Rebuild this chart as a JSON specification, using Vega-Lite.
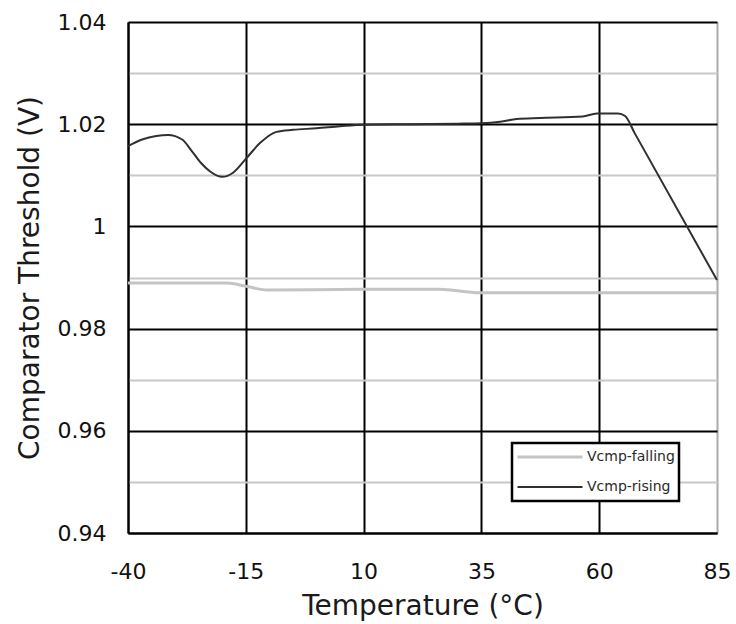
{
  "$schema": "https://vega.github.io/schema/vega-lite/v6.json",
  "autosize": {"type": "none"},
  "padding": {"left": 128, "top": 22, "right": 19, "bottom": 91},
  "width": 589,
  "height": 511,
  "background": "white",
  "config": {
    "view": {"stroke": null},
    "font": "DejaVu Sans",
    "axis": {"labelFont": "DejaVu Sans", "titleFont": "DejaVu Sans", "labelColor": "#111", "titleColor": "#1a1a1a", "titleFontWeight": "normal", "labelFlush": false},
    "legend": {"symbolStrokeWidth": 2.5}
  },
  "data": {
    "values": [
      {"T": -40, "V": 1.0157, "series": "Vcmp-rising"},
      {"T": -37, "V": 1.0170, "series": "Vcmp-rising"},
      {"T": -34, "V": 1.0177, "series": "Vcmp-rising"},
      {"T": -31.5, "V": 1.0179, "series": "Vcmp-rising"},
      {"T": -28.5, "V": 1.0170, "series": "Vcmp-rising"},
      {"T": -26.5, "V": 1.0148, "series": "Vcmp-rising"},
      {"T": -24.5, "V": 1.0124, "series": "Vcmp-rising"},
      {"T": -22.5, "V": 1.0107, "series": "Vcmp-rising"},
      {"T": -20, "V": 1.0097, "series": "Vcmp-rising"},
      {"T": -17.7, "V": 1.0105, "series": "Vcmp-rising"},
      {"T": -15, "V": 1.0132, "series": "Vcmp-rising"},
      {"T": -12, "V": 1.0163, "series": "Vcmp-rising"},
      {"T": -8.5, "V": 1.0185, "series": "Vcmp-rising"},
      {"T": -5, "V": 1.0189, "series": "Vcmp-rising"},
      {"T": 0, "V": 1.0192, "series": "Vcmp-rising"},
      {"T": 5, "V": 1.0196, "series": "Vcmp-rising"},
      {"T": 10, "V": 1.0199, "series": "Vcmp-rising"},
      {"T": 20, "V": 1.0200, "series": "Vcmp-rising"},
      {"T": 30, "V": 1.0201, "series": "Vcmp-rising"},
      {"T": 35, "V": 1.0202, "series": "Vcmp-rising"},
      {"T": 39, "V": 1.0205, "series": "Vcmp-rising"},
      {"T": 42.5, "V": 1.0210, "series": "Vcmp-rising"},
      {"T": 47.5, "V": 1.0212, "series": "Vcmp-rising"},
      {"T": 56.5, "V": 1.0215, "series": "Vcmp-rising"},
      {"T": 59.5, "V": 1.0221, "series": "Vcmp-rising"},
      {"T": 64, "V": 1.0221, "series": "Vcmp-rising"},
      {"T": 65.5, "V": 1.0216, "series": "Vcmp-rising"},
      {"T": 67.5, "V": 1.0183, "series": "Vcmp-rising"},
      {"T": 85, "V": 0.9895, "series": "Vcmp-rising"},
      {"T": -40, "V": 0.9889, "series": "Vcmp-falling"},
      {"T": -19, "V": 0.9889, "series": "Vcmp-falling"},
      {"T": -15, "V": 0.9883, "series": "Vcmp-falling"},
      {"T": -10.5, "V": 0.98755, "series": "Vcmp-falling"},
      {"T": 10, "V": 0.9877, "series": "Vcmp-falling"},
      {"T": 26, "V": 0.9877, "series": "Vcmp-falling"},
      {"T": 34.7, "V": 0.9870, "series": "Vcmp-falling"},
      {"T": 85, "V": 0.9870, "series": "Vcmp-falling"}
    ]
  },
  "mark": {"type": "line", "interpolate": "monotone"},
  "encoding": {
    "x": {
      "field": "T", "type": "quantitative",
      "scale": {"domain": [-40, 85], "nice": false},
      "axis": {
        "title": "Temperature (°C)",
        "values": [-40, -15, 10, 35, 60, 85],
        "labelExpr": "(datum.value < 0 ? '-' : '') + abs(datum.value)",
        "labelFlush": false,
        "ticks": false,
        "labelFontSize": 22,
        "labelPadding": 28,
        "titleFontSize": 28,
        "titlePadding": 10,
        "domainColor": "#000",
        "domainWidth": 2,
        "grid": true,
        "gridColor": {"condition": {"test": "datum.value == 85", "value": "#aaaaaa"}, "value": "#000000"},
        "gridWidth": 2,
        "gridOpacity": 1
      }
    },
    "y": {
      "field": "V", "type": "quantitative",
      "scale": {"domain": [0.94, 1.04], "nice": false, "zero": false},
      "axis": {
        "title": "Comparator Threshold (V)",
        "values": [0.94, 0.95, 0.96, 0.97, 0.98, 0.99, 1.0, 1.01, 1.02, 1.03, 1.04],
        "format": "~g",
        "labelExpr": "round(datum.value*100) % 2 == 0 ? datum.label : ''",
        "labelFlush": false,
        "ticks": false,
        "labelFontSize": 22,
        "labelPadding": 22,
        "titleFontSize": 28,
        "titlePadding": 13,
        "domainColor": "#000",
        "domainWidth": 2,
        "grid": true,
        "gridColor": {"condition": {"test": "round(datum.value*100) % 2 == 0", "value": "#000000"}, "value": "#c8c8c8"},
        "gridWidth": 2,
        "gridOpacity": 1
      }
    },
    "color": {
      "field": "series", "type": "nominal",
      "scale": {"domain": ["Vcmp-falling", "Vcmp-rising"], "range": ["#c4c4c4", "#303030"]},
      "legend": {
        "title": null,
        "orient": "none",
        "legendX": 384,
        "legendY": 421,
        "symbolType": "stroke",
        "symbolSize": 4225,
        "symbolStrokeWidth": 2.5,
        "clipHeight": 20,
        "rowPadding": 10,
        "padding": 4,
        "labelOffset": 3,
        "labelFont": "DejaVu Sans",
        "labelFontSize": 14,
        "labelColor": "#2a2a2a",
        "strokeColor": "#000",
        "fillColor": "#ffffff",
        "encode": {
          "legend": {"update": {"strokeWidth": {"value": 2.5}}},
          "symbols": {"update": {"strokeWidth": {"value": 2.5}}}
        }
      }
    },
    "strokeWidth": {
      "field": "series", "type": "nominal",
      "scale": {"domain": ["Vcmp-falling", "Vcmp-rising"], "range": [3, 2]},
      "legend": null
    }
  }
}
